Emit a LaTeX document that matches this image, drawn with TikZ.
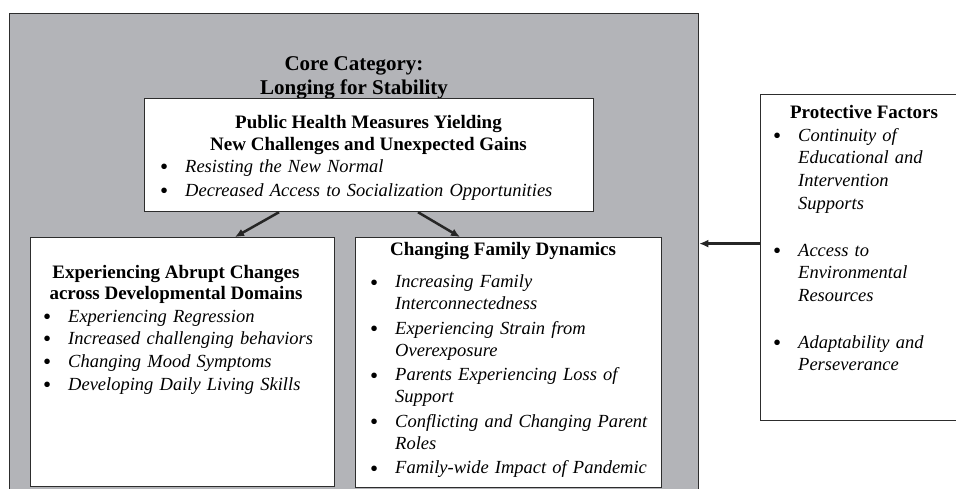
\documentclass[tikz,border=0pt]{standalone}
\usepackage{fontspec}
\usepackage{graphicx}
\setmainfont{Liberation Serif}
\usetikzlibrary{arrows.meta}

\definecolor{coregray}{RGB}{179,180,184}
\definecolor{edgegray}{RGB}{45,45,45}

% one bullet item with hanging indent
\newcommand{\itm}[1]{\par\hangindent=25pt\hangafter=1\noindent
  \hbox to 25pt{\raisebox{-0.25ex}{\scalebox{1.25}{\textbullet}}\hfil}\textit{#1}\par}
\newcommand{\hd}{\fontsize{19}{21.5}\selectfont\bfseries}

\begin{document}
\begin{tikzpicture}[
  x=1pt, y=-1pt,
  font=\fontsize{18.5}{22}\selectfont,
  box/.style={draw=edgegray, line width=1.2pt, fill=white, anchor=north west, inner sep=0pt},
  head/.style={anchor=north, inner sep=0pt, align=center, font=\hd},
  list/.style={anchor=north west, inner sep=0pt, text width=320pt,
    execute at begin node={\raggedright\hyphenpenalty=10000\setlength{\parskip}{#1}}},
  list/.default=2.5pt,
  arrow/.style={-{Latex[length=9pt,width=8pt]}, line width=2.5pt, draw=black!85}
]
\useasboundingbox (0,0) rectangle (956,488);
\clip (0,0) rectangle (956,488);

\node[draw=edgegray, line width=1.3pt, fill=coregray, anchor=north west, inner sep=0pt,
  minimum width=689pt, minimum height=500pt] (core) at (9,13) {};
\node[anchor=north, inner sep=0pt, align=center, font=\fontsize{21}{24}\selectfont\bfseries]
  (coretitle) at (354,56) {Core Category:\\Longing for Stability};

% the four white boxes
\node[box, minimum width=449pt, minimum height=113pt] (public) at (144,98) {};
\node[box, minimum width=304pt, minimum height=249pt] (abrupt) at (30,237) {};
\node[box, minimum width=306pt, minimum height=250pt] (family) at (355,237) {};
\node[box, minimum width=205pt, minimum height=326pt] (protect) at (760,94) {};

% headings
\node[head] (publichead) at (368.5,115.5) {Public Health Measures Yielding\\New Challenges and Unexpected Gains};
\node[head] (abrupthead) at (176,265) {Experiencing Abrupt Changes\\across Developmental Domains};
\node[head] (familyhead) at (503,242.5) {Changing Family Dynamics};
\node[head] (protecthead) at (864,105.5) {Protective Factors};

% bullet lists
\node[list=2pt, text width=420pt] (publiclist) at (160,148.2) {%
  \itm{Resisting the New Normal}
  \itm{Decreased Access to Socialization Opportunities}};

\node[list=0pt, font=\fontsize{18.5}{22.7}\selectfont] (abruptlist) at (43,299.2) {%
  \itm{Experiencing Regression}
  \itm{Increased challenging behaviors}
  \itm{Changing Mood Symptoms}
  \itm{Developing Daily Living Skills}};

\node[list] (familylist) at (370,263.2) {%
  \itm{Increasing Family\newline Interconnectedness}
  \itm{Experiencing Strain from\newline Overexposure}
  \itm{Parents Experiencing Loss of\newline Support}
  \itm{Conflicting and Changing Parent\newline Roles}
  \itm{Family-wide Impact of Pandemic}};

\node[list=0pt, font=\fontsize{18.5}{22.7}\selectfont] (protectlist) at (773,118.2) {%
  \itm{Continuity of\newline Educational and\newline Intervention\newline Supports}
  \vspace{24.3pt}
  \itm{Access to\newline Environmental\newline Resources}
  \vspace{23.9pt}
  \itm{Adaptability and\newline Perseverance}};

\draw[arrow] ([xshift=135pt]public.south west) -- ([xshift=205pt]abrupt.north west);
\draw[arrow] ([xshift=274pt]public.south west) -- ([xshift=105pt]family.north west);
\draw[arrow] ([yshift=14pt]protect.west) -- ([yshift=14pt]protect.west -| core.east);
\end{tikzpicture}
\end{document}
